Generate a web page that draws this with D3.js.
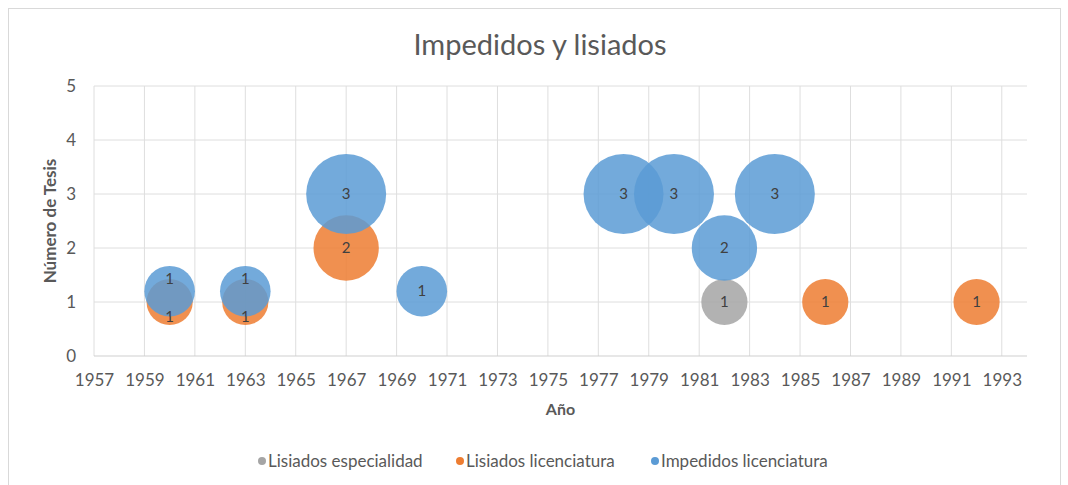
<!DOCTYPE html>
<html>
<head>
<meta charset="utf-8">
<script src="https://cdn.jsdelivr.net/npm/d3@7"></script>
<style>
  body { margin: 0; background: #fff; }
  text { font-family: Lato, "Open Sans", sans-serif; }
</style>
</head>
<body>
<div id="chart"></div>
<script>
// Data ====================
let seriesNames = ["Lisiados especialidad", "Lisiados licenciatura", "Impedidos licenciatura"];
let seriesColors = ["#a5a5a5", "#ed7d31", "#5b9bd5"];

let espYears = [1982];
let espValues = [1];
let espSizes = [1];

let licYears = [1960, 1963, 1967, 1986, 1992];
let licValues = [1, 1, 2, 1, 1];
let licSizes = [1, 1, 2, 1, 1];

let impYears = [1960, 1963, 1967, 1970, 1978, 1980, 1982, 1984];
let impValues = [1.2, 1.2, 3, 1.2, 3, 3, 2, 3];
let impSizes = [1.2, 1.2, 3, 1.2, 3, 3, 2, 3];
let impLabels = [1, 1, 3, 1, 3, 3, 2, 3];

let xTicks = d3.range(1957, 1994, 2);
let yTicks = [0, 1, 2, 3, 4, 5];

let svgWidth = 1068;
let svgHeight = 485;
let margin = { top: 86, right: 41, bottom: 129, left: 94 };
let width = svgWidth - margin.left - margin.right;
let height = svgHeight - margin.top - margin.bottom;

let svg = d3.select("#chart").append("svg").attr("width", svgWidth).attr("height", svgHeight);

// outer frame
svg.append("rect")
  .attr("x", 8.5).attr("y", 8.5)
  .attr("width", 1052).attr("height", 480)
  .attr("fill", "none")
  .attr("stroke", "#d9d9d9");

svg.append("text")
  .attr("x", 540)
  .attr("y", 55)
  .attr("text-anchor", "middle")
  .attr("font-size", 29)
  .attr("fill", "#595959")
  .text("Impedidos y lisiados");

let chartGroup = svg.append("g").attr("transform", `translate(${margin.left}, ${margin.top})`);

let x = d3.scaleLinear().domain([1957, 1994]).range([0, width]);
let y = d3.scaleLinear().domain([0, 5]).range([height, 0]);
let r = d3.scaleSqrt().domain([0, 3]).range([0, 40]);

// grid
chartGroup.append("g")
  .selectAll("line")
  .data(xTicks)
  .enter()
  .append("line")
  .attr("x1", d => x(d)).attr("x2", d => x(d))
  .attr("y1", 0).attr("y2", height)
  .attr("stroke", "#dedede");

chartGroup.append("g")
  .selectAll("line")
  .data(yTicks)
  .enter()
  .append("line")
  .attr("x1", 0).attr("x2", width)
  .attr("y1", d => y(d)).attr("y2", d => y(d))
  .attr("stroke", d => d === 0 ? "#cfcfcf" : "#dedede");

// axes
let xAxis = chartGroup.append("g")
  .attr("transform", `translate(0, ${height})`)
  .call(d3.axisBottom(x).tickValues(xTicks).tickFormat(d3.format("d")).tickSize(0).tickPadding(18));

let yAxis = chartGroup.append("g")
  .call(d3.axisLeft(y).tickValues(yTicks).tickFormat(d3.format("d")).tickSize(0).tickPadding(18));

[xAxis, yAxis].forEach(a => {
  a.select(".domain").remove();
  a.selectAll("text").attr("font-size", 17).attr("fill", "#595959").attr("font-family", "Lato, sans-serif");
});

svg.append("text")
  .attr("x", margin.left + width / 2)
  .attr("y", 415)
  .attr("text-anchor", "middle")
  .attr("font-size", 16)
  .attr("font-weight", "bold")
  .attr("fill", "#595959")
  .text("Año");

svg.append("text")
  .attr("transform", `translate(56, ${margin.top + height / 2}) rotate(-90)`)
  .attr("text-anchor", "middle")
  .attr("font-size", 17)
  .attr("font-weight", "bold")
  .attr("fill", "#595959")
  .text("Número de Tesis");

// Bubbles ====================
let series = [
  { years: espYears, values: espValues, sizes: espSizes, labels: espValues },
  { years: licYears, values: licValues, sizes: licSizes, labels: licValues },
  { years: impYears, values: impValues, sizes: impSizes, labels: impLabels }
];

let points = [];
series.forEach((s, i) => {
  s.years.forEach((yr, j) => {
    points.push({ s: i, year: yr, value: s.values[j], size: s.sizes[j], label: s.labels[j] });
  });
});

// push labels apart where two bubbles share a year
points.forEach(p => {
  let other = points.find(q => q !== p && q.year === p.year && Math.abs(q.value - p.value) < 0.5);
  p.dy = other ? (p.value >= other.value ? -12 : 15) : 0;
});

chartGroup.selectAll("circle")
  .data(points)
  .enter()
  .append("circle")
  .attr("cx", d => x(d.year))
  .attr("cy", d => y(d.value))
  .attr("r", d => r(d.size))
  .attr("fill", d => seriesColors[d.s])
  .attr("fill-opacity", 0.85);

chartGroup.selectAll(".lbl")
  .data(points)
  .enter()
  .append("text")
  .attr("class", "lbl")
  .attr("x", d => x(d.year))
  .attr("y", d => y(d.value) + d.dy)
  .attr("dy", "0.35em")
  .attr("text-anchor", "middle")
  .attr("font-size", 15)
  .attr("fill", "#404040")
  .text(d => d.label);

// Legend ====================
let legendX = [262, 460, 655];
let legend = svg.append("g");
seriesNames.forEach((name, i) => {
  legend.append("circle")
    .attr("cx", legendX[i]).attr("cy", 461).attr("r", 4)
    .attr("fill", seriesColors[i]);
  legend.append("text")
    .attr("x", legendX[i] + 6).attr("y", 461)
    .attr("dy", "0.35em")
    .attr("font-size", 17)
    .attr("fill", "#595959")
    .text(name);
});
</script>
</body>
</html>
